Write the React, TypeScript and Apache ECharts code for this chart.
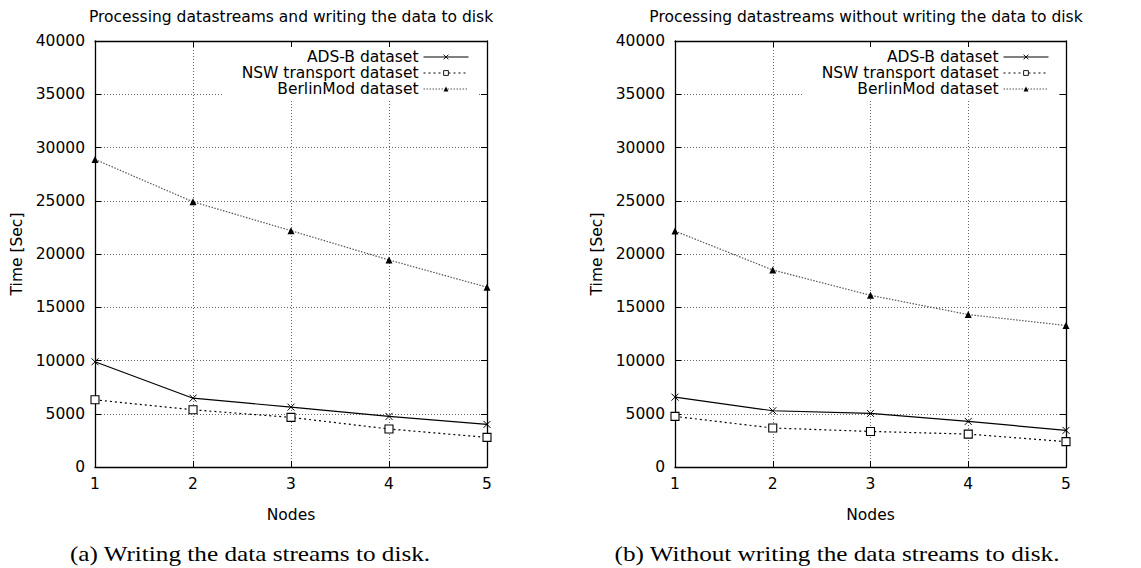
import React, { useEffect, useRef } from "react";
import * as echarts from "echarts";

// Number of processing nodes
const nodes = [1, 2, 3, 4, 5];

// (a) processing with data written to disk, time in seconds
const adsbDisk = [9880, 6460, 5620, 4750, 4000];
const nswDisk = [6310, 5370, 4660, 3570, 2780];
const berlinDisk = [28880, 24900, 22190, 19440, 16880];

// (b) processing without writing to disk, time in seconds
const adsbNoDisk = [6560, 5280, 5030, 4280, 3440];
const nswNoDisk = [4750, 3660, 3340, 3090, 2380];
const berlinNoDisk = [22150, 18500, 16120, 14310, 13290];

const yTicks = { min: 0, max: 40000, interval: 5000 };
const seriesNames = ["ADS-B dataset", "NSW transport dataset", "BerlinMod dataset"];
const panelTitles = [
  "Processing datastreams and writing the data to disk",
  "Processing datastreams without writing the data to disk",
];
const captions = [
  "(a) Writing the data streams to disk.",
  "(b) Without writing the data streams to disk.",
];

const SANS = "DejaVu Sans";
const SERIF = "Liberation Serif";
const FS = 15.5;

const toPairs = (vals: number[]) => nodes.map((n, i) => [n, vals[i]]);

const crossPath = "path://M0,0L10,10M0,10L10,0";

function App() {
  const ref = useRef<HTMLDivElement>(null);

  useEffect(() => {
    if (!ref.current) return;
    const chart = echarts.init(ref.current, null, { renderer: "svg" });

    const grids = [
      { left: 95, top: 41, width: 392, height: 426 },
      { left: 675, top: 41, width: 391, height: 426 },
    ];

    const gridLine = { show: true, lineStyle: { color: "#666", width: 1, type: [1, 2] } };
    const frame = { show: true, onZero: false, lineStyle: { color: "#000", width: 1.3 } };
    const innerTick = { show: true, inside: true, length: 6, lineStyle: { color: "#000", width: 1 } };
    const plain = (v: number) => String(v);

    const xAxes: any[] = [];
    const yAxes: any[] = [];
    grids.forEach((_, g) => {
      xAxes.push({
        type: "value",
        gridIndex: g,
        position: "bottom",
        min: 1,
        max: 5,
        interval: 1,
        name: "Nodes",
        nameLocation: "middle",
        nameGap: 40,
        nameTextStyle: { fontFamily: SANS, fontSize: FS, color: "#000" },
        axisLine: frame,
        axisTick: innerTick,
        axisLabel: { fontFamily: SANS, fontSize: FS, color: "#000", margin: 9, formatter: plain },
        splitLine: gridLine,
      });
      xAxes.push({
        type: "value",
        gridIndex: g,
        position: "top",
        min: 1,
        max: 5,
        interval: 1,
        axisLine: frame,
        axisTick: innerTick,
        axisLabel: { show: false },
        splitLine: { show: false },
      });
      yAxes.push({
        type: "value",
        gridIndex: g,
        position: "left",
        ...yTicks,
        name: "Time [Sec]",
        nameLocation: "middle",
        nameGap: 70,
        nameTextStyle: { fontFamily: SANS, fontSize: FS, color: "#000" },
        axisLine: frame,
        axisTick: innerTick,
        axisLabel: { fontFamily: SANS, fontSize: FS, color: "#000", margin: 10, formatter: plain },
        splitLine: gridLine,
      });
      yAxes.push({
        type: "value",
        gridIndex: g,
        position: "right",
        ...yTicks,
        axisLine: frame,
        axisTick: innerTick,
        axisLabel: { show: false },
        splitLine: { show: false },
      });
    });

    const makeSeries = (g: number, adsb: number[], nsw: number[], berlin: number[]) => [
      {
        name: seriesNames[0],
        type: "line",
        xAxisIndex: g * 2,
        yAxisIndex: g * 2,
        data: toPairs(adsb),
        clip: false,
        symbol: crossPath,
        symbolSize: 7,
        itemStyle: { color: "none", borderColor: "#000", borderWidth: 1 },
        lineStyle: { color: "#000", width: 1.2, type: "solid" },
        z: 5,
      },
      {
        name: seriesNames[1],
        type: "line",
        xAxisIndex: g * 2,
        yAxisIndex: g * 2,
        data: toPairs(nsw),
        clip: false,
        symbol: "rect",
        symbolSize: 8,
        itemStyle: { color: "#fff", borderColor: "#000", borderWidth: 1.1 },
        lineStyle: { color: "#000", width: 1.2, type: [2, 3] },
        z: 4,
      },
      {
        name: seriesNames[2],
        type: "line",
        xAxisIndex: g * 2,
        yAxisIndex: g * 2,
        data: toPairs(berlin),
        clip: false,
        symbol: "triangle",
        symbolSize: 7,
        itemStyle: { color: "#000", borderWidth: 0 },
        lineStyle: { color: "#555", width: 1.2, type: [1.5, 1.5] },
        z: 3,
      },
    ];

    const legendBase = {
      orient: "vertical",
      align: "right",
      top: 47,
      itemWidth: 45,
      itemHeight: 6,
      itemGap: 0,
      backgroundColor: "#fff",
      padding: [2, 9, 2, 18],
      selectedMode: false,
      lineStyle: { width: 1 },
      itemStyle: { borderWidth: 0.9 },
      textStyle: { fontFamily: SANS, fontSize: FS, color: "#000" },
      data: seriesNames,
    };

    const textStyle = (text: string, font: string) => ({
      text,
      align: "center",
      verticalAlign: "middle",
      font,
      fill: "#000",
    });

    chart.setOption({
      animation: false,
      backgroundColor: "#fff",
      textStyle: { fontFamily: SANS },
      grid: grids,
      xAxis: xAxes,
      yAxis: yAxes,
      legend: [
        { ...legendBase, right: 1141 - 478 },
        { ...legendBase, right: 1141 - 1058 },
      ],
      series: [
        ...makeSeries(0, adsbDisk, nswDisk, berlinDisk),
        ...makeSeries(1, adsbNoDisk, nswNoDisk, berlinNoDisk),
      ],
      graphic: [
        { type: "text", x: 291, y: 17, style: textStyle(panelTitles[0], `${FS}px "${SANS}"`) },
        { type: "text", x: 866, y: 17, style: textStyle(panelTitles[1], `${FS}px "${SANS}"`) },
        { type: "text", x: 250, y: 554, scaleX: 1.2, style: textStyle(captions[0], `21px "${SERIF}"`) },
        { type: "text", x: 837, y: 554, scaleX: 1.2, style: textStyle(captions[1], `21px "${SERIF}"`) },
      ],
    });

    return () => chart.dispose();
  }, []);

  return (
    <div
      ref={ref}
      style={{ position: "fixed", left: 0, top: 0, width: 1141, height: 568, background: "#fff" }}
    />
  );
}

export default App;
